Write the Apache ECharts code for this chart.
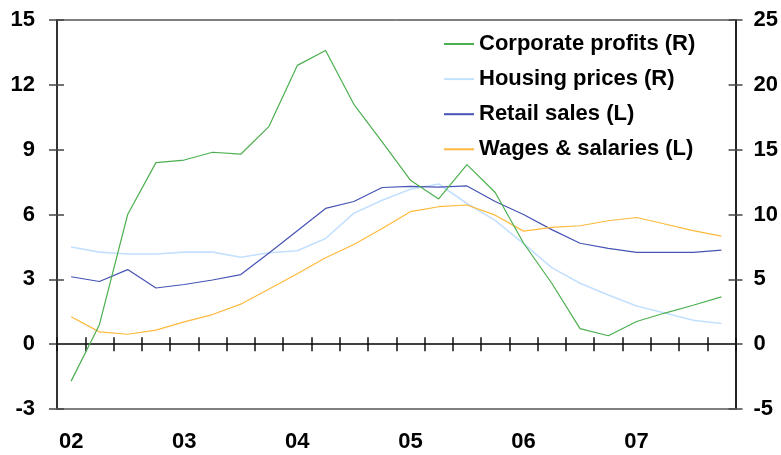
<!DOCTYPE html>
<html><head><meta charset="utf-8">
<script src="https://cdn.jsdelivr.net/npm/echarts@6/dist/echarts.min.js"></script>
<style>html,body{margin:0;padding:0;background:#fff}#c{width:781px;height:455px}</style>
</head><body><div id="c"></div>
<script>
const quarters = ['2002Q1','2002Q2','2002Q3','2002Q4','2003Q1','2003Q2','2003Q3','2003Q4',
  '2004Q1','2004Q2','2004Q3','2004Q4','2005Q1','2005Q2','2005Q3','2005Q4',
  '2006Q1','2006Q2','2006Q3','2006Q4','2007Q1','2007Q2','2007Q3','2007Q4'];
const yearTickLabels = ['02','03','04','05','06','07'];
const leftTicks = [-3, 15, 3];   // min, max, interval
const rightTicks = [-5, 25, 5];
// Right axis
const corporateProfits = [-2.85, 1.5, 10.0, 14.0, 14.2, 14.8, 14.65, 16.8, 21.5, 22.65, 18.5, 15.6,
  12.65, 11.2, 13.85, 11.7, 7.8, 4.7, 1.2, 0.65, 1.75, 2.4, 3.0, 3.65];
const housingPrices = [7.5, 7.1, 6.95, 6.95, 7.1, 7.1, 6.7, 7.05, 7.2, 8.15, 10.1, 11.1,
  11.95, 12.35, 10.85, 9.55, 7.75, 5.9, 4.7, 3.8, 2.95, 2.4, 1.85, 1.6];
// Left axis
const retailSales = [3.12, 2.9, 3.45, 2.6, 2.76, 2.97, 3.22, 4.22, 5.25, 6.28, 6.6, 7.25,
  7.3, 7.27, 7.32, 6.6, 6.0, 5.3, 4.67, 4.43, 4.25, 4.25, 4.25, 4.35];
const wagesSalaries = [1.27, 0.57, 0.46, 0.65, 1.03, 1.37, 1.85, 2.55, 3.26, 4.0, 4.61, 5.35,
  6.13, 6.36, 6.44, 5.97, 5.23, 5.4, 5.48, 5.71, 5.86, 5.56, 5.25, 5.0];
const seriesNames = ['Corporate profits (R)','Housing prices (R)','Retail sales (L)','Wages & salaries (L)'];
const seriesColors = ['#4caf4f','#c4e0ff','#4654b4','#ffb93c'];

const FONT = 'Liberation Sans, Arial, sans-serif';
const lblStyle = {color:'#000', fontWeight:'bold', fontSize:22, fontFamily:FONT};

const chart = echarts.init(document.getElementById('c'), null, {renderer:'canvas'});

function yAx(pos, ticks, opts) {
  return Object.assign({
    type:'value', position:pos, min:ticks[0], max:ticks[1], interval:ticks[2],
    splitLine:{show:false},
    axisLine:{show:false, onZero:false},
    axisTick:{show:false},
    axisLabel:{show:false}
  }, opts);
}

const option = {
  animation:false,
  backgroundColor:'#fff',
  grid:{left:57, right:44, top:20, bottom:46, show:true, borderColor:'#000', borderWidth:1, containLabel:false},
  legend:{
    orient:'vertical', left:443, top:33, padding:0, itemWidth:30, itemHeight:22, itemGap:13.1,
    textStyle:Object.assign({}, lblStyle, {fontSize:22, padding:[0,0,0,0]}),
    itemStyle:{opacity:0},
    lineStyle:{width:2},
    data:seriesNames
  },
  xAxis:[
    {type:'category', data:quarters, position:'bottom', boundaryGap:true,
     axisLine:{show:true, onZero:false, lineStyle:{color:'#808080', width:2}},
     axisTick:{show:false},
     axisLabel:Object.assign({}, lblStyle, {interval:3, margin:22,
       formatter:(v, i) => yearTickLabels[Math.floor(i/4)]})},
    {type:'category', data:quarters, position:'bottom', boundaryGap:true,
     axisLine:{show:true, onZero:true, onZeroAxisIndex:0, lineStyle:{color:'#000', width:1.5}},
     axisTick:{show:true, inside:false, length:7, interval:0, lineStyle:{color:'#111', width:1.5}},
     axisLabel:{show:false}},
    {type:'category', data:quarters, position:'bottom', boundaryGap:true,
     axisLine:{show:false, onZero:true, onZeroAxisIndex:0},
     axisTick:{show:true, inside:true, length:7, interval:0, lineStyle:{color:'#111', width:1.5}},
     axisLabel:{show:false}}
  ],
  yAxis:[
    yAx('left', leftTicks, {
      axisLine:{show:true, onZero:false, lineStyle:{color:'#333', width:2}},
      axisTick:{show:true, inside:false, length:8, lineStyle:{color:'#444', width:1.5}},
      axisLabel:Object.assign({}, lblStyle, {margin:22})}),
    yAx('right', rightTicks, {
      axisLine:{show:true, onZero:false, lineStyle:{color:'#222', width:2}},
      axisTick:{show:true, inside:false, length:7, lineStyle:{color:'#444', width:1.5}},
      axisLabel:Object.assign({}, lblStyle, {margin:18})}),
    yAx('left', leftTicks, {
      axisTick:{show:true, inside:true, length:7, lineStyle:{color:'#444', width:1.5}}}),
    yAx('right', rightTicks, {
      axisTick:{show:true, inside:true, length:7, lineStyle:{color:'#444', width:1.5}}})
  ],
  series:[
    {name:seriesNames[0], type:'line', yAxisIndex:1, data:corporateProfits, symbol:'none',
     lineStyle:{color:seriesColors[0], width:1.2}, itemStyle:{color:seriesColors[0]}, z:5},
    {name:seriesNames[1], type:'line', yAxisIndex:1, data:housingPrices, symbol:'none',
     lineStyle:{color:seriesColors[1], width:1.6}, itemStyle:{color:seriesColors[1]}, z:2},
    {name:seriesNames[2], type:'line', yAxisIndex:0, data:retailSales, symbol:'none',
     lineStyle:{color:seriesColors[2], width:1.2}, itemStyle:{color:seriesColors[2]}, z:3},
    {name:seriesNames[3], type:'line', yAxisIndex:0, data:wagesSalaries, symbol:'none',
     lineStyle:{color:seriesColors[3], width:1.2}, itemStyle:{color:seriesColors[3]}, z:4}
  ]
};
chart.setOption(option);
</script></body></html>
